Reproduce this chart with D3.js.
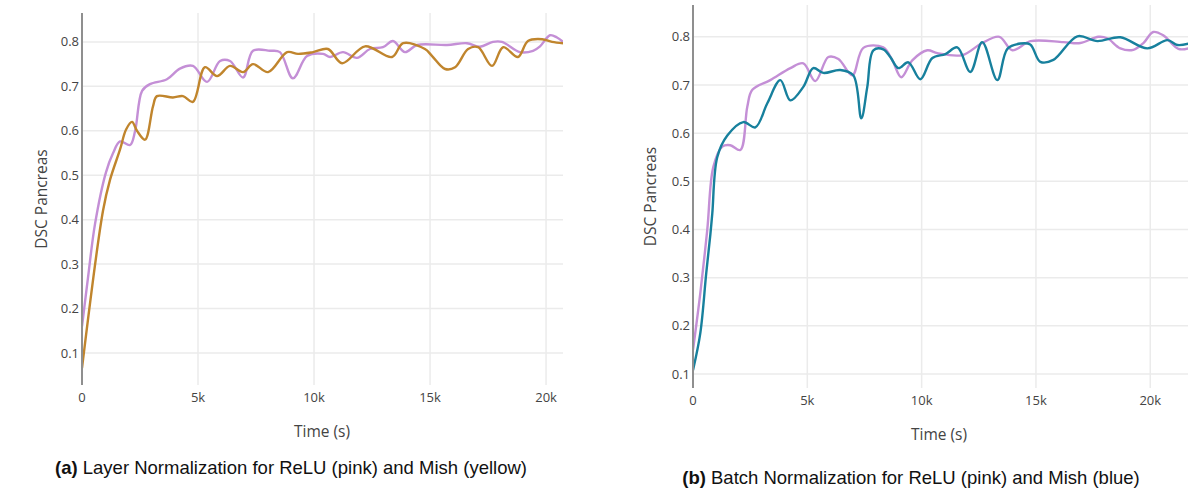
<!doctype html>
<html>
  <head>
    <meta charset="utf-8">
    <title>DSC Pancreas - ReLU vs Mish</title>
    <script src="https://cdnjs.cloudflare.com/ajax/libs/d3/7.8.5/d3.min.js"></script>
    <style>
      body { margin: 0; background: #fff; }
      .tick-label { font-family: "Open Sans", sans-serif; font-size: 13px; fill: #444; }
      .axis-title { font-family: "Open Sans", sans-serif; font-size: 15.5px; fill: #444; }
      .caption { font-family: "Liberation Sans", Arial, sans-serif; font-size: 18.5px; fill: #111; }
    </style>
  </head>
  <body>
    <div id="chart"></div>
    <script>
      // ---- data ----
      // (a) layer normalization
      const lnReluTime = [0, 260, 560, 1030, 1340, 1640, 2070, 2290, 2590, 2930, 3660, 4220, 4780, 5390, 5950, 6380, 6940, 7370, 8100, 8530, 9090, 9700, 10390, 10690, 11250, 11850, 12410, 12970, 13400, 13920, 14440, 15730, 16590, 17150, 17710, 18100, 18880, 19440, 19740, 20170, 20470, 20730];
      const lnReluDsc  = [0.16, 0.27, 0.39, 0.506, 0.55, 0.576, 0.568, 0.60, 0.69, 0.705, 0.716, 0.74, 0.746, 0.71, 0.757, 0.757, 0.72, 0.78, 0.78, 0.777, 0.718, 0.768, 0.773, 0.766, 0.777, 0.764, 0.784, 0.788, 0.802, 0.777, 0.793, 0.793, 0.797, 0.789, 0.80, 0.80, 0.777, 0.78, 0.79, 0.815, 0.81, 0.80];
      const lnMishTime = [0, 905, 1210, 1640, 1900, 2155, 2370, 2715, 3060, 3230, 3920, 4350, 4780, 5300, 5820, 6380, 6940, 7370, 8020, 8840, 9310, 9960, 10600, 11210, 12200, 13360, 13840, 14780, 15090, 15650, 16080, 16640, 17070, 17670, 18150, 18790, 19220, 19830, 20260, 20730];
      const lnMishDsc  = [0.066, 0.42, 0.49, 0.558, 0.603, 0.62, 0.60, 0.58, 0.655, 0.678, 0.675, 0.678, 0.665, 0.743, 0.723, 0.746, 0.732, 0.75, 0.732, 0.777, 0.773, 0.777, 0.784, 0.752, 0.79, 0.766, 0.797, 0.784, 0.768, 0.739, 0.743, 0.784, 0.788, 0.746, 0.788, 0.766, 0.802, 0.806, 0.80, 0.797];

      // (b) batch normalization
      const bnReluTime = [0, 320, 625, 890, 1280, 1630, 2070, 2375, 2595, 3380, 4260, 4825, 5350, 5920, 6360, 6970, 7450, 8320, 8720, 9110, 9590, 10250, 10690, 11780, 12610, 13400, 13970, 14760, 16200, 16940, 17730, 18120, 18690, 19260, 19700, 20130, 20570, 21230, 21670];
      const bnReluDsc  = [0.15, 0.268, 0.40, 0.53, 0.572, 0.575, 0.565, 0.655, 0.69, 0.71, 0.735, 0.745, 0.708, 0.758, 0.754, 0.72, 0.777, 0.778, 0.751, 0.716, 0.751, 0.772, 0.766, 0.762, 0.786, 0.80, 0.772, 0.791, 0.789, 0.787, 0.80, 0.797, 0.776, 0.773, 0.787, 0.81, 0.803, 0.775, 0.776];
      const bnMishTime = [0, 320, 580, 760, 845, 1060, 1500, 2200, 2725, 3250, 3820, 4260, 4825, 5260, 5700, 6440, 7010, 7360, 7620, 7890, 8320, 8630, 8980, 9420, 9940, 10470, 11040, 11560, 12130, 12650, 13310, 13750, 14320, 14750, 15190, 15760, 16810, 17690, 18690, 19870, 20750, 21190, 21670];
      const bnMishDsc  = [0.108, 0.185, 0.31, 0.39, 0.434, 0.55, 0.595, 0.623, 0.612, 0.662, 0.71, 0.668, 0.696, 0.735, 0.725, 0.731, 0.72, 0.631, 0.695, 0.772, 0.774, 0.758, 0.735, 0.747, 0.712, 0.756, 0.764, 0.778, 0.727, 0.789, 0.71, 0.775, 0.786, 0.784, 0.748, 0.752, 0.801, 0.791, 0.799, 0.776, 0.793, 0.783, 0.786];

      const xTicks = [0, 5000, 10000, 15000, 20000];
      const xTickLabels = ['0', '5k', '10k', '15k', '20k'];
      const yTicks = [0.1, 0.2, 0.3, 0.4, 0.5, 0.6, 0.7, 0.8];

      const W = 1188, H = 491;
      const svg = d3.select('#chart').append('svg')
        .attr('width', W).attr('height', H);

      const panels = [
        {
          id: 'a', left: 82, right: 563, top: 13, bottom: 385,
          xDomain: [0, 20730], yDomain: [0.028, 0.865],
          series: [
            { t: lnReluTime, v: lnReluDsc, color: '#c48fd6' },
            { t: lnMishTime, v: lnMishDsc, color: '#c0852d' }
          ],
          yTitleX: 42, xTitleY: 437, xTitleX: 322,
          capX: 291, capY: 474, capBold: '(a)',
          capText: ' Layer Normalization for ReLU (pink) and Mish (yellow)'
        },
        {
          id: 'b', left: 693, right: 1188, top: 5, bottom: 388,
          xDomain: [0, 21650], yDomain: [0.071, 0.866],
          series: [
            { t: bnReluTime, v: bnReluDsc, color: '#c48fd6' },
            { t: bnMishTime, v: bnMishDsc, color: '#17809d' }
          ],
          yTitleX: 651, xTitleY: 440, xTitleX: 939,
          capX: 911, capY: 484, capBold: '(b)',
          capText: ' Batch Normalization for ReLU (pink) and Mish (blue)'
        }
      ];

      panels.forEach(p => {
        const x = d3.scaleLinear().domain(p.xDomain).range([p.left, p.right]);
        const y = d3.scaleLinear().domain(p.yDomain).range([p.bottom, p.top]);
        const g = svg.append('g');

        // grid
        g.selectAll('.hgrid').data(yTicks).join('line')
          .attr('x1', p.left).attr('x2', p.right)
          .attr('y1', d => y(d)).attr('y2', d => y(d))
          .attr('stroke', '#ebebeb').attr('stroke-width', 1.5);
        g.selectAll('.vgrid').data(xTicks.slice(1)).join('line')
          .attr('x1', d => x(d)).attr('x2', d => x(d))
          .attr('y1', p.top).attr('y2', p.bottom)
          .attr('stroke', '#ebebeb').attr('stroke-width', 1.5);

        // tick labels
        g.selectAll('.ylab').data(yTicks).join('text')
          .attr('class', 'tick-label')
          .attr('x', p.left - 3).attr('y', d => y(d))
          .attr('dy', '0.35em').attr('text-anchor', 'end')
          .text(d => d3.format('.1f')(d));
        g.selectAll('.xlab').data(xTicks).join('text')
          .attr('class', 'tick-label')
          .attr('x', d => x(d)).attr('y', p.bottom + 17)
          .attr('text-anchor', 'middle')
          .text((d, i) => xTickLabels[i]);

        // lines
        const clipId = 'clip-' + p.id;
        svg.append('clipPath').attr('id', clipId).append('rect')
          .attr('x', p.left).attr('y', p.top)
          .attr('width', p.right - p.left).attr('height', p.bottom - p.top);

        const line = d3.line()
          .x(d => x(d[0])).y(d => y(d[1]))
          .curve(d3.curveCatmullRom.alpha(0.5));

        p.series.forEach(s => {
          g.append('path')
            .datum(d3.zip(s.t, s.v))
            .attr('clip-path', `url(#${clipId})`)
            .attr('fill', 'none')
            .attr('stroke', s.color)
            .attr('stroke-width', 2.4)
            .attr('stroke-linejoin', 'round')
            .attr('d', line);
        });

        // y axis line
        g.append('line')
          .attr('x1', p.left).attr('x2', p.left)
          .attr('y1', p.top).attr('y2', p.bottom)
          .attr('stroke', '#8f8f8f').attr('stroke-width', 2);

        // titles
        g.append('text').attr('class', 'axis-title')
          .attr('transform', `translate(${p.yTitleX},${(p.top + p.bottom) / 2}) rotate(-90)`)
          .attr('text-anchor', 'middle').attr('dy', '0.35em')
          .text('DSC Pancreas');
        g.append('text').attr('class', 'axis-title')
          .attr('x', p.xTitleX)
          .attr('y', p.xTitleY).attr('text-anchor', 'middle')
          .text('Time (s)');

        const cap = g.append('text').attr('class', 'caption')
          .attr('x', p.capX).attr('y', p.capY).attr('text-anchor', 'middle');
        cap.append('tspan').attr('font-weight', 'bold').text(p.capBold);
        cap.append('tspan').text(p.capText);
      });
    </script>
  </body>
</html>
